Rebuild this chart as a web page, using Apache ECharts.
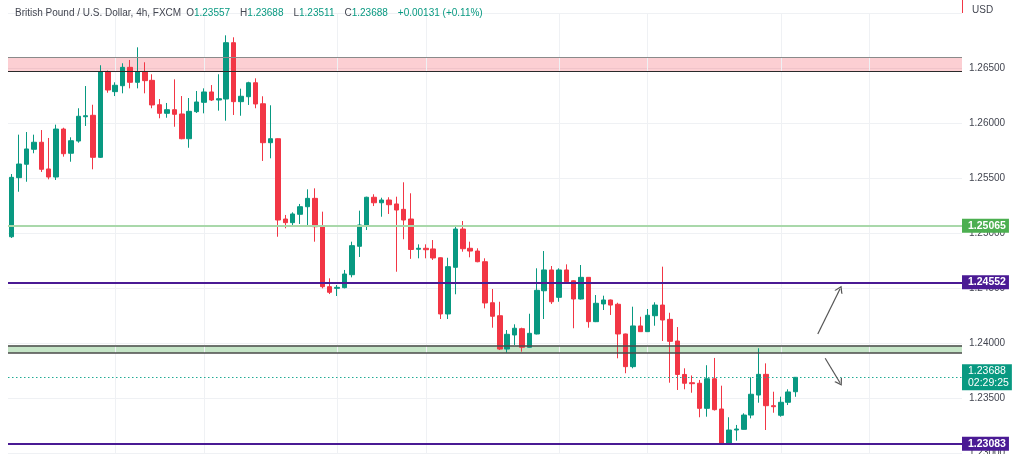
<!DOCTYPE html>
<html><head><meta charset="utf-8">
<script src="https://cdn.jsdelivr.net/npm/echarts@6/dist/echarts.min.js"></script>
<style>html,body{margin:0;padding:0;background:#fff}#c{width:1024px;height:454px}</style>
</head><body><div id="c"></div>
<script>
// ---- data (GBP/USD, 4h, FXCM) ----
const opens = [
1.24966,1.25503,1.25625,1.25761,1.25825,1.25582,1.25509,1.25945,1.25725,1.25836,
1.26057,1.26070,1.25688,1.26466,1.26285,1.26339,1.26506,1.26370,1.26466,1.26388,
1.26166,1.26088,1.26121,1.26082,1.25857,1.26103,1.26188,1.26282,1.26209,1.26218,
1.26730,1.26194,1.26239,1.26366,1.26175,1.25821,1.25857,1.25127,1.25094,1.25170,
1.25239,1.25315,1.25057,1.24512,1.24497,1.24503,1.24621,1.24879,1.25070,1.25325,
1.25275,1.25300,1.25264,1.25215,1.25127,1.24852,1.24861,1.24855,1.24775,1.24264,
1.24688,1.25036,1.24861,1.24836,1.24739,1.24366,1.24248,1.23945,1.24073,1.24130,
1.23961,1.24082,1.24475,1.24664,1.24415,1.24664,1.24566,1.24400,1.24597,1.24194,
1.24355,1.24391,1.24352,1.24082,1.23785,1.24155,1.24103,1.24248,1.24345,1.24215,
1.24018,1.23714,1.23639,1.23634,1.23406,1.23675,1.23400,1.23079,1.23209,1.23215,
1.23345,1.23527,1.23715,1.23430,1.23343,1.23461,1.23557];
const closes = [
1.25506,1.25627,1.25764,1.25825,1.25579,1.25509,1.25945,1.25721,1.25839,1.26061,
1.26066,1.25688,1.26466,1.26300,1.26343,1.26506,1.26370,1.26466,1.26385,1.26164,
1.26088,1.26121,1.26079,1.25857,1.26106,1.26191,1.26282,1.26209,1.26221,1.26730,
1.26194,1.26243,1.26366,1.26173,1.25821,1.25857,1.25118,1.25094,1.25173,1.25239,
1.25315,1.25057,1.24512,1.24461,1.24506,1.24627,1.24885,1.25073,1.25325,1.25275,
1.25300,1.25257,1.25209,1.25118,1.24850,1.24861,1.24848,1.24773,1.24264,1.24694,
1.25036,1.24857,1.24836,1.24739,1.24364,1.24243,1.23945,1.24079,1.24134,1.23961,
1.24088,1.24479,1.24664,1.24375,1.24664,1.24557,1.24400,1.24597,1.24194,1.24361,
1.24391,1.24345,1.24082,1.23785,1.24155,1.24103,1.24252,1.24345,1.24209,1.24015,
1.23714,1.23634,1.23630,1.23406,1.23675,1.23394,1.23079,1.23209,1.23218,1.23345,
1.23534,1.23715,1.23430,1.23421,1.23461,1.23555,1.23688];
const lows = [
1.24955,1.25375,1.25466,1.25725,1.25555,1.25488,1.25482,1.25694,1.25648,1.25821,
1.25973,1.25579,1.25682,1.26275,1.26245,1.26270,1.26315,1.26315,1.26270,1.26134,
1.26043,1.26048,1.25966,1.25852,1.25775,1.26091,1.26088,1.26200,1.26112,1.26021,
1.26073,1.26066,1.26164,1.26134,1.25655,1.25679,1.24966,1.25043,1.25064,1.25082,
1.25057,1.24921,1.24497,1.24445,1.24427,1.24497,1.24597,1.24782,1.25027,1.25245,
1.25148,1.25173,1.24648,1.24943,1.24765,1.24770,1.24770,1.24755,1.24218,1.24218,
1.24443,1.24830,1.24779,1.24734,1.24315,1.24139,1.23936,1.23912,1.23982,1.23921,
1.23959,1.24078,1.24218,1.24355,1.24375,1.24550,1.24134,1.24395,1.24139,1.24190,
1.24300,1.24255,1.23861,1.23725,1.23770,1.24100,1.24100,1.24157,1.24018,1.23639,
1.23573,1.23579,1.23548,1.23325,1.23330,1.23386,1.23077,1.23077,1.23112,1.23213,
1.23315,1.23457,1.23209,1.23366,1.23330,1.23436,1.23511];
const highs = [
1.25536,1.25894,1.25918,1.25894,1.25936,1.25864,1.25985,1.25957,1.25870,1.26134,
1.26336,1.26166,1.26525,1.26477,1.26370,1.26543,1.26573,1.26688,1.26552,1.26443,
1.26218,1.26182,1.26397,1.26245,1.26227,1.26291,1.26315,1.26345,1.26443,1.26797,
1.26779,1.26312,1.26375,1.26406,1.26243,1.26161,1.25860,1.25164,1.25188,1.25264,
1.25397,1.25406,1.25194,1.24588,1.24527,1.24664,1.24921,1.25203,1.25330,1.25352,
1.25321,1.25325,1.25330,1.25461,1.25361,1.24897,1.24897,1.24936,1.24778,1.24775,
1.25073,1.25109,1.24921,1.24861,1.24770,1.24491,1.24375,1.24118,1.24170,1.24139,
1.24266,1.24679,1.24836,1.24700,1.24679,1.24715,1.24570,1.24709,1.24600,1.24436,
1.24430,1.24395,1.24366,1.24085,1.24330,1.24239,1.24309,1.24370,1.24694,1.24275,
1.24145,1.23770,1.23705,1.23664,1.23798,1.23864,1.23612,1.23325,1.23255,1.23361,
1.23688,1.23952,1.23815,1.23557,1.23512,1.23579,1.23688];
const futureSlots = 22;               // empty bars to the right of the last candle
const priceMin = 1.23, priceMax = 1.27, priceStep = 0.005;
const resistanceZone = [1.26594, 1.26466];   // pink box [top, bottom]
const supportZone = [1.23977, 1.23909];      // green box [top, bottom]
const levelGreen = 1.25065;
const levelPurpleHigh = 1.24552;
const levelPurpleLow = 1.23083;
const countdown = '02:29:25';
const sessionBreaks = [14, 26, 44, 56, 74, 86, 104, 116];
const arrowUp = [[109, 1.24082], [112, 1.24491]];
const arrowDown = [[110, 1.23861], [112, 1.23639]];

// ---- build ----
const n = opens.length;
const categories = [];
for (let i = 0; i < n + futureSlots; i++) categories.push(String(i));
const ohlc = opens.map((o, i) => [o, closes[i], lows[i], highs[i]]);
const last = n - 1;
const lastPrice = closes[last];
const chg = closes[last] - opens[last];
const f5 = v => v.toFixed(5);
const UP = '#089981', DOWN = '#f23645', PURPLE = '#4a1a94';
const FONT = 'Liberation Sans, Arial, sans-serif';
const CHEVRON = 'path://M5,0 L10,10 L8.4,10 L5,3.2 L1.6,10 L0,10 Z';

function tag(bg, text) {
  return { show: true, position: 'end', distance: 0, formatter: text,
    backgroundColor: bg, color: '#fff', fontSize: 10.5, fontWeight: 'bold',
    fontFamily: FONT, lineHeight: 12, padding: [1, 3, 1, 6] };
}
const noLabel = { show: false };
const sign = v => (v >= 0 ? '+' : '');

const chart = echarts.init(document.getElementById('c'));
chart.setOption({
  animation: false,
  backgroundColor: '#ffffff',
  title: {
    left: 10, top: -1,
    text: `{t|British Pound / U.S. Dollar, 4h, FXCM} {k|O}{v|${f5(opens[last])}}  {k|H}{v|${f5(highs[last])}}  {k|L}{v|${f5(lows[last])}}  {k|C}{v|${f5(closes[last])}}  {v|${sign(chg)}${f5(chg)} (${sign(chg)}${(chg / opens[last] * 100).toFixed(2)}%)}`,
    textStyle: {
      fontWeight: 'normal',
      rich: {
        t: { color: '#434651', fontSize: 10, fontWeight: 'normal', fontFamily: FONT },
        k: { color: '#434651', fontSize: 10, fontWeight: 'normal', fontFamily: FONT },
        v: { color: UP, fontSize: 10, fontWeight: 'normal', fontFamily: FONT }
      }
    }
  },
  grid: { left: 8, right: 62, top: 13, bottom: 1, outerBoundsMode: 'none', containLabel: false },
  xAxis: {
    type: 'category', data: categories, boundaryGap: true,
    axisLine: { show: false }, axisTick: { show: false }, axisLabel: { show: false },
    splitLine: { show: false }
  },
  yAxis: {
    type: 'value', position: 'right', scale: true,
    min: priceMin, max: priceMax, interval: priceStep,
    name: 'USD', nameLocation: 'end', nameGap: 3,
    nameTextStyle: { align: 'left', verticalAlign: 'middle', padding: [0, 0, 0, 10], color: '#434651', fontSize: 10, fontFamily: FONT },
    axisLine: { show: false }, axisTick: { show: false },
    axisLabel: { margin: 7, color: '#434651', fontSize: 10, fontFamily: FONT, showMaxLabel: false,
      formatter: v => v.toFixed(5) },
    splitLine: { lineStyle: { color: '#eff1f4', width: 1 } }
  },
  graphic: [{ type: 'line', shape: { x1: 962.5, y1: 0, x2: 962.5, y2: 13 }, style: { stroke: DOWN, lineWidth: 1 } }],
  series: [
    {
      name: 'sessions', type: 'line', data: [], silent: true,
      markLine: {
        z: 1, silent: true, symbol: ['none', 'none'], label: noLabel,
        lineStyle: { color: '#eff1f4', width: 1, type: 'solid' },
        data: sessionBreaks.map(i => ({ xAxis: i }))
      }
    },
    {
      name: 'GBPUSD', type: 'candlestick', data: ohlc, barWidth: 5, clip: false,
      itemStyle: { color: UP, color0: DOWN, borderColor: UP, borderColor0: DOWN, borderWidth: 1 },
      markArea: {
        silent: true, label: noLabel,
        data: [
          [{ yAxis: resistanceZone[0], itemStyle: { color: 'rgba(242,54,69,0.24)' } }, { yAxis: resistanceZone[1] }],
          [{ yAxis: supportZone[0], itemStyle: { color: 'rgba(76,175,80,0.32)' } }, { yAxis: supportZone[1] }]
        ]
      },
      markLine: {
        silent: true, precision: 5, symbol: ['none', 'none'], label: noLabel,
        data: [
          { yAxis: resistanceZone[0], lineStyle: { color: '#8a8a8a', width: 1.2, type: 'solid' }, label: noLabel },
          { yAxis: resistanceZone[1], lineStyle: { color: '#2a2a2a', width: 1.2, type: 'solid' }, label: noLabel },
          { yAxis: supportZone[0], lineStyle: { color: '#4a4a4a', width: 1.5, type: 'solid' }, label: noLabel },
          { yAxis: supportZone[1], lineStyle: { color: '#4a4a4a', width: 1.5, type: 'solid' }, label: noLabel },
          { yAxis: levelGreen, lineStyle: { color: '#a9d8aa', width: 2, type: 'solid' }, label: tag('#4caf50', f5(levelGreen)) },
          { yAxis: levelPurpleHigh, lineStyle: { color: PURPLE, width: 2, type: 'solid' }, label: tag(PURPLE, f5(levelPurpleHigh)) },
          { yAxis: levelPurpleLow, lineStyle: { color: PURPLE, width: 2, type: 'solid' }, label: tag(PURPLE, f5(levelPurpleLow)) },
          { yAxis: lastPrice, lineStyle: { color: '#22ab94', width: 1, type: [1.5, 2.5] }, label: Object.assign(tag(UP, f5(lastPrice) + '\n' + countdown), { fontWeight: 'normal' }) },
          [ { coord: arrowUp[0], symbol: 'none', lineStyle: { color: '#555', width: 1.2, type: 'solid' }, label: noLabel },
            { coord: arrowUp[1], symbol: CHEVRON, symbolSize: [9, 7] } ],
          [ { coord: arrowDown[0], symbol: 'none', lineStyle: { color: '#555', width: 1.2, type: 'solid' }, label: noLabel },
            { coord: arrowDown[1], symbol: CHEVRON, symbolSize: [9, 7] } ]
        ]
      }
    }
  ]
});
</script>
</body></html>
